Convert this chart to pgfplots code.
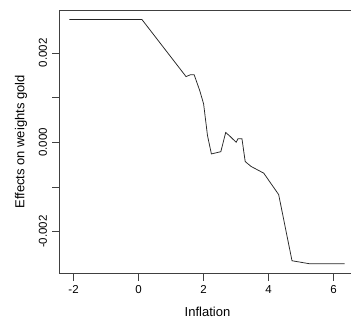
\documentclass[border=0pt]{standalone}
\usepackage{fontspec}
\setmainfont{Liberation Sans}
\usepackage{pgfplots}
\pgfplotsset{compat=1.18}
\begin{document}
\begin{tikzpicture}
\begin{axis}[
  name=ax,
  scale only axis,
  width=296.4pt, height=263.7pt,
  xmin=-2.44, xmax=6.68,
  ymin=-0.00294, ymax=0.00296,
  xtick={-2,0,2,4,6},
  xticklabels={-2,0,2,4,6},
  ytick={-0.002,-0.001,0,0.001,0.002},
  yticklabels={-0.002,,0.000,,0.002},
  /pgf/number format/assume math mode=true,
  scaled y ticks=false,
  tick pos=left,
  tick align=outside,
  major tick length=7pt,
  axis line style={black!75, line width=0.7pt},
  every tick/.style={black!75, line width=0.7pt},
  tick label style={font=\fontsize{11.5}{13}\selectfont},
  yticklabel style={rotate=90, anchor=south},
  yticklabel shift=1.8pt,
  xticklabel shift=0.9pt,
  label style={font=\fontsize{13}{15}\selectfont},
  xlabel={Inflation},
  ylabel={Effects on weights gold},
  xlabel style={at={(axis description cs:0.5,0)}, anchor=base, yshift=-42.4pt},
  ylabel style={at={(axis description cs:0,0.5)}, anchor=base, yshift=34.8pt},
]
\addplot[black!85, line width=0.75pt] coordinates {
(-2.13,0.002745)
(0.105,0.002745)
(1.46,0.00147)
(1.59,0.00151)
(1.71,0.00151)
(1.88,0.00116)
(2.00,0.00086)
(2.12,0.00015)
(2.24,-0.00026)
(2.53,-0.00021)
(2.68,0.00022)
(2.82,0.00013)
(3.00,0.0)
(3.06,0.00008)
(3.18,0.00008)
(3.28,-0.00043)
(3.46,-0.00054)
(3.85,-0.00069)
(4.31,-0.00117)
(4.72,-0.00265)
(5.28,-0.00272)
(6.34,-0.00272)
};
\end{axis}
\pgfresetboundingbox
\path[use as bounding box] ([xshift=-59.3pt,yshift=-48.7pt]ax.south west) rectangle ([xshift=291.7pt,yshift=273.7pt]ax.south west);
\end{tikzpicture}
\end{document}
